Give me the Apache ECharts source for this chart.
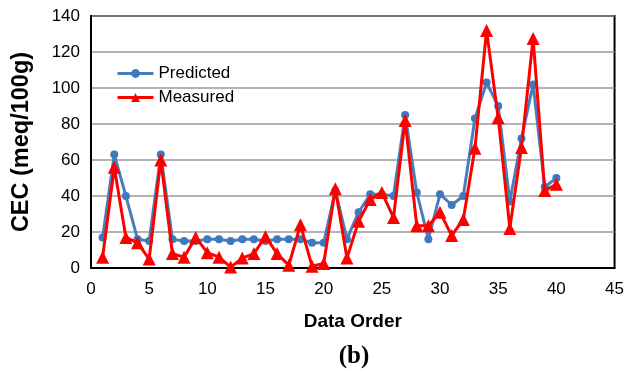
<!DOCTYPE html>
<html>
<head>
<meta charset="utf-8">
<script src="https://cdn.jsdelivr.net/npm/echarts@6/dist/echarts.min.js"></script>
<style>html,body{margin:0;padding:0;background:#fff;}#c{width:627px;height:372px;}</style>
</head>
<body>
<div id="c"></div>
<script>
var order = [1,2,3,4,5,6,7,8,9,10,11,12,13,14,15,16,17,18,19,20,21,22,23,24,25,26,27,28,29,30,31,32,33,34,35,36,37,38,39,40];
var predicted = [17,63,40,16,15,63,16,15,15,16,16,15,16,16,15,16,16,16,14,14,43,16,31,41,41,40,85,42,16,41,35,40,83,103,90,37,72,102,45,50];
var measured = [6,56,17,14,5,60,8,6,17,8.5,6,0.5,5.5,8,17.5,8,1.5,24,1,2.5,44,5.5,26,38,42,28,82,23.5,23.5,31,18,27,66.5,132,83.5,22,67,127.5,43,46.5];
var xTicks = {min:0, max:45, interval:5};
var yTicks = {min:0, max:140, interval:20};

function pairs(xs, ys){ return xs.map(function(x,i){ return [x, ys[i]]; }); }

var chart = echarts.init(document.getElementById('c'), null, {renderer:'canvas'});
var font = 'Liberation Sans, Arial, Helvetica, sans-serif';
chart.setOption({
  animation:false,
  backgroundColor:'#fff',
  grid:{left:91, right:11, top:16, bottom:104, show:true, borderColor:'#000', borderWidth:2, containLabel:false},
  legend:{
    orient:'vertical', left:111, top:60, itemWidth:36, itemHeight:11, itemGap:7,
    textStyle:{fontFamily:font, fontSize:17, color:'#000'},
    lineStyle:{width:3},
    data:['Predicted','Measured']
  },
  xAxis:{
    type:'value', min:xTicks.min, max:xTicks.max, interval:xTicks.interval,
    name:'Data Order', nameLocation:'middle', nameGap:44,
    nameTextStyle:{fontFamily:font, fontSize:19, fontWeight:'bold', color:'#000'},
    axisLine:{show:true, lineStyle:{color:'#000', width:2}},
    axisTick:{show:false},
    axisLabel:{fontFamily:font, fontSize:17, color:'#000', margin:13},
    splitLine:{show:false}
  },
  yAxis:{
    type:'value', min:yTicks.min, max:yTicks.max, interval:yTicks.interval,
    name:'CEC (meq/100g)', nameLocation:'middle', nameGap:57, nameRotate:90,
    nameTextStyle:{fontFamily:font, fontSize:23.5, fontWeight:'bold', color:'#000'},
    axisLine:{show:true, lineStyle:{color:'#000', width:2}},
    axisTick:{show:false},
    axisLabel:{fontFamily:font, fontSize:17, color:'#000', margin:11},
    splitLine:{show:true, lineStyle:{color:'#9a9a9a', width:1.5}}
  },
  graphic:[{type:'text', x:354, y:357, style:{text:'(b)', font:'bold 25px "Liberation Serif", "Times New Roman", serif', fill:'#000', textAlign:'center', textVerticalAlign:'middle'}}],
  series:[
    {name:'Predicted', type:'line', data:pairs(order, predicted), symbol:'circle', symbolSize:8,
     lineStyle:{color:'#4a7ebb', width:3}, itemStyle:{color:'#3d78c0'}, z:2},
    {name:'Measured', type:'line', data:pairs(order, measured), symbol:'triangle', symbolSize:13,
     lineStyle:{color:'#ff0000', width:3}, itemStyle:{color:'#ff0000'}, z:3}
  ]
});
</script>
</body>
</html>
